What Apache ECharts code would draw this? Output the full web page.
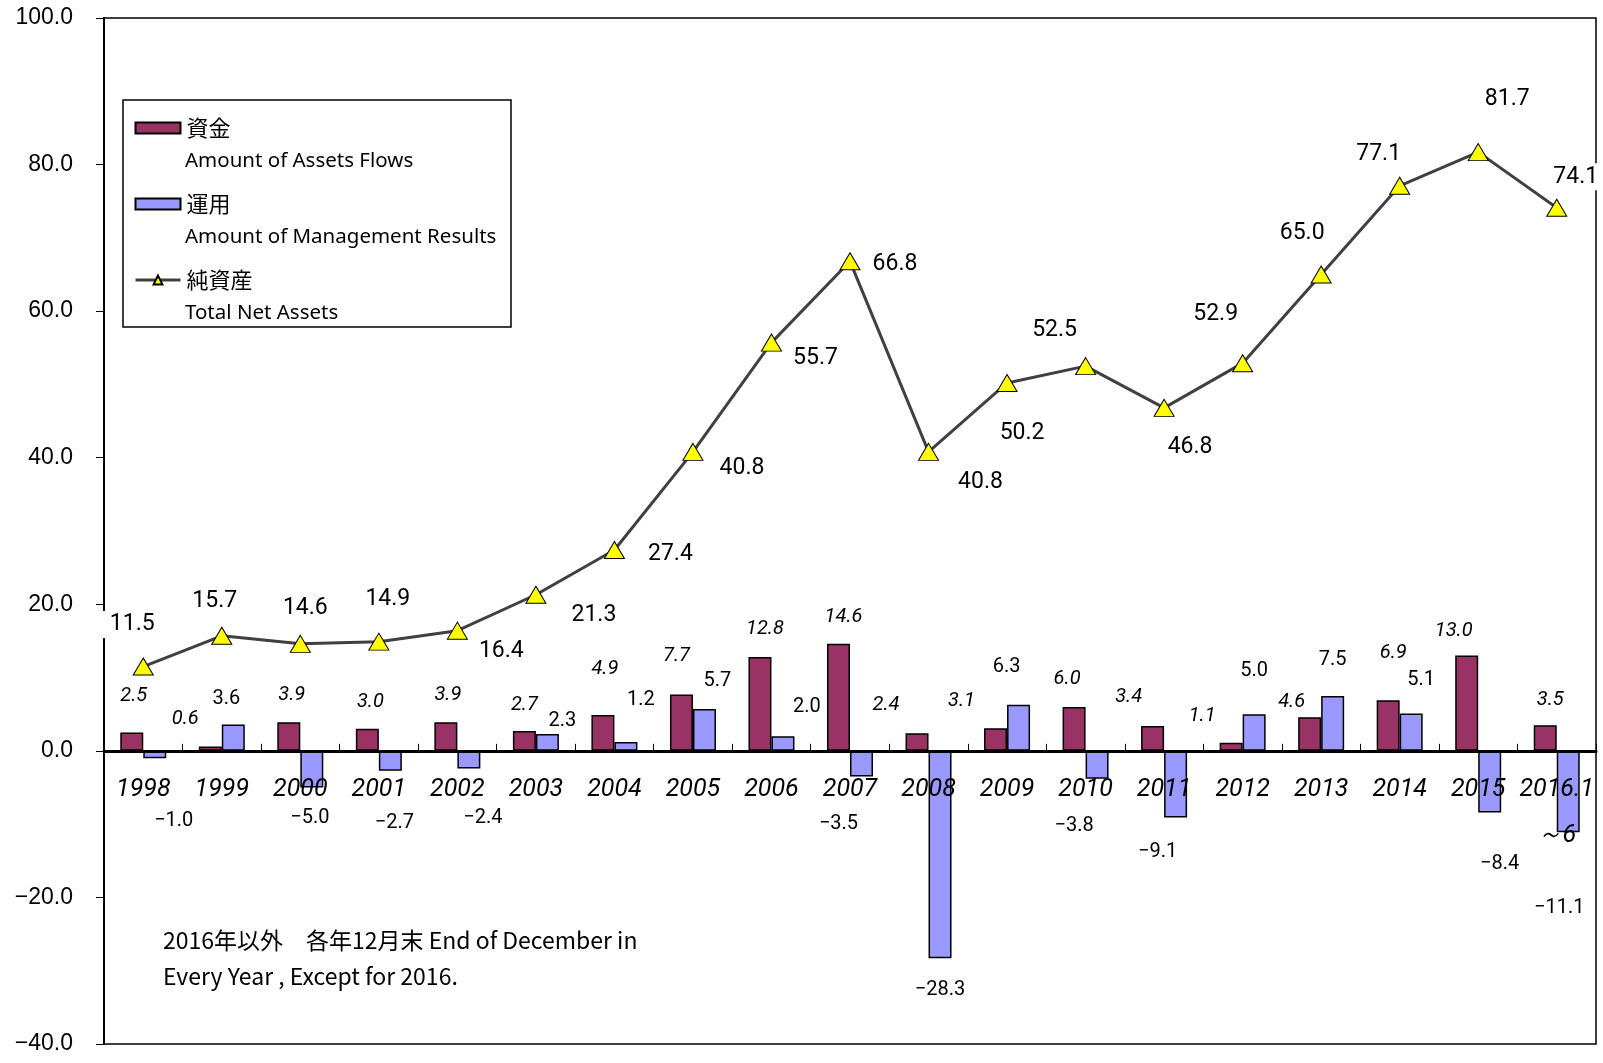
<!DOCTYPE html>
<html>
<head>
<meta charset="utf-8">
<script src="https://cdn.jsdelivr.net/npm/echarts@6/dist/echarts.min.js"></script>
<style>
  html, body { margin: 0; padding: 0; background: #fff; }
  .chart { width: 1603px; height: 1063px; }
</style>
</head>
<body>
<div class="chart"></div>
<script>
// 年 (x軸)
let years = ['1998', '1999', '2000', '2001', '2002', '2003', '2004', '2005', '2006', '2007',
  '2008', '2009', '2010', '2011', '2012', '2013', '2014', '2015', '2016.1\n～6']
// 資金 Amount of Assets Flows
let flows = [2.5, 0.6, 3.9, 3.0, 3.9, 2.7, 4.9, 7.7, 12.8, 14.6, 2.4, 3.1, 6.0, 3.4, 1.1, 4.6, 6.9, 13.0, 3.5]
// 運用 Amount of Management Results
let results = [-1.0, 3.6, -5.0, -2.7, -2.4, 2.3, 1.2, 5.7, 2.0, -3.5, -28.3, 6.3, -3.8, -9.1, 5.0, 7.5, 5.1, -8.4, -11.1]
// 純資産 Total Net Assets
let netAssets = [11.5, 15.7, 14.6, 14.9, 16.4, 21.3, 27.4, 40.8, 55.7, 66.8, 40.8, 50.2, 52.5, 46.8, 52.9, 65.0, 77.1, 81.7, 74.1]

// ラベルの手動配置 (px)
let flowLabelOffset = [[2, -10], [-25, 0], [3, 0], [3, 0], [2, 0], [0, 1], [2, -19], [-5, -11], [5, -1], [5, 0],
  [-31, -1], [-34, 0], [-7, -1], [-24, -2], [-29, 0], [-18, 12], [5, -20], [-13, 2], [5, 2]]
let resultLabelOffset = [[19, 36], [-7, 2], [-2, 3], [4, 25], [14, 23], [15, 14], [15, -15], [13, -1], [24, -2], [-23, 20],
  [0, 5], [-12, -11], [-23, 20], [-18, 7], [0, -16], [0, -9], [10, -6], [10, 25], [-9, 49]]
let netLabelOffset = [[-11, -42], [-7, -35], [5, -36], [9, -42], [44, 21], [58, 20], [56, 4], [49, 16], [44, 16], [45, 3],
  [52, 30], [15, 50], [-31, -36], [26, 39], [-27, -49], [-19, -41], [-21, -32], [29, -53], [19, -31]]

let myChart = echarts.init(document.querySelector('.chart'))

// グリッド位置
let gridTop = 18
let gridBottom = 19
let yMin = -40
let yMax = 100
// x軸を0の位置に移動
let zeroOffset = -((1063 - gridTop - gridBottom) * (0 - yMin) / (yMax - yMin))

function fmt(v) {
  let s = Math.abs(v).toFixed(1)
  return v < 0 ? '\u2212' + s : s
}

let option = {
  backgroundColor: '#fff',
  animation: false,
  grid: {
    left: 104, right: 7, top: gridTop, bottom: gridBottom,
    containLabel: false,
    outerBoundsMode: 'none',
    show: true, borderColor: '#000', borderWidth: 1.5, backgroundColor: 'transparent'
  },
  legend: {
    orient: 'vertical',
    left: 134,
    top: 117,
    padding: 0,
    itemWidth: 45,
    itemHeight: 11,
    itemGap: 54,
    textStyle: { fontFamily: 'Noto Sans CJK JP', fontSize: 22, color: '#000', padding: [0, 0, 0, 1] },
    data: [
      { name: '資金', icon: 'rect' },
      { name: '運用', icon: 'rect' },
      { name: '純資産', lineStyle: { width: 3 } }
    ]
  },
  xAxis: {
    type: 'category',
    data: years,
    z: 3,
    position: 'bottom',
    offset: zeroOffset,
    axisLine: { onZero: false, lineStyle: { color: '#000', width: 3 } },
    axisTick: { show: true, inside: true, length: 7, lineStyle: { color: '#000', width: 1 } },
    axisLabel: {
      interval: 0,
      margin: 16,
      lineHeight: 46,
      fontFamily: 'Roboto',
      fontStyle: 'italic',
      fontSize: 25,
      color: '#000'
    }
  },
  yAxis: {
    type: 'value',
    min: yMin,
    max: yMax,
    interval: 20,
    splitLine: { show: false },
    axisLine: { show: true, onZero: false, lineStyle: { color: '#000', width: 2 } },
    axisTick: { show: true, length: 8, lineStyle: { color: '#000', width: 1 } },
    axisLabel: {
      margin: 31,
      padding: [6, 0, 0, 0],
      fontFamily: 'Liberation Sans',
      fontSize: 23,
      color: '#000',
      formatter: v => fmt(v)
    }
  },
  graphic: [
    // 凡例の枠
    {
      type: 'rect',
      shape: { x: 123, y: 100, width: 388, height: 227 },
      style: { fill: 'none', stroke: '#000', lineWidth: 1.5 },
      z: 5
    },
    { type: 'text', x: 185, y: 161, z: 5,
      style: { text: 'Amount of Assets Flows', font: '20.5px "Noto Sans"', fill: '#000', verticalAlign: 'middle' } },
    { type: 'text', x: 185, y: 237, z: 5,
      style: { text: 'Amount of Management Results', font: '20.5px "Noto Sans"', fill: '#000', verticalAlign: 'middle' } },
    { type: 'text', x: 185, y: 313, z: 5,
      style: { text: 'Total Net Assets', font: '20.5px "Noto Sans"', fill: '#000', verticalAlign: 'middle' } },
    // 注記
    { type: 'text', x: 163, y: 940, z: 5,
      style: { text: '2016年以外　各年12月末 End of December in', font: '23px "Noto Sans CJK JP"', fill: '#000', verticalAlign: 'middle' } },
    { type: 'text', x: 163, y: 976, z: 5,
      style: { text: 'Every Year , Except for 2016.', font: '23px "Noto Sans CJK JP"', fill: '#000', verticalAlign: 'middle' } }
  ],
  series: [
    {
      name: '資金',
      type: 'bar',
      barWidth: 23,
      barGap: '0%',
      itemStyle: { color: '#993366', borderColor: '#000', borderWidth: 1.5 },
      label: {
        show: true,
        position: 'top',
        distance: 17,
        fontFamily: 'Roboto',
        fontStyle: 'italic',
        fontSize: 20,
        color: '#000',
        formatter: p => fmt(p.value)
      },
      data: flows.map((v, i) => ({ value: v, label: { offset: flowLabelOffset[i] } }))
    },
    {
      name: '運用',
      type: 'bar',
      barWidth: 23,
      barGap: '0%',
      itemStyle: { color: '#9999ff', borderColor: '#000', borderWidth: 1.5 },
      label: {
        show: true,
        distance: 17,
        fontFamily: 'Roboto',
        fontSize: 20,
        color: '#000',
        formatter: p => fmt(p.value)
      },
      data: results.map((v, i) => ({
        value: v,
        label: { position: v < 0 ? 'bottom' : 'top', offset: resultLabelOffset[i] }
      }))
    },
    {
      name: '純資産',
      type: 'line',
      z: 4,
      symbol: 'triangle',
      symbolSize: [20, 17],
      lineStyle: { color: '#404040', width: 3 },
      itemStyle: { color: '#ffff00', borderColor: '#000', borderWidth: 1 },
      label: {
        show: true,
        position: 'inside',
        fontFamily: 'Roboto',
        fontSize: 23,
        color: '#000',
        backgroundColor: '#fff',
        padding: [2, 8],
        formatter: p => fmt(p.value)
      },
      data: netAssets.map((v, i) => ({ value: v, label: { offset: netLabelOffset[i] } }))
    }
  ]
}

myChart.setOption(option)
</script>
</body>
</html>
